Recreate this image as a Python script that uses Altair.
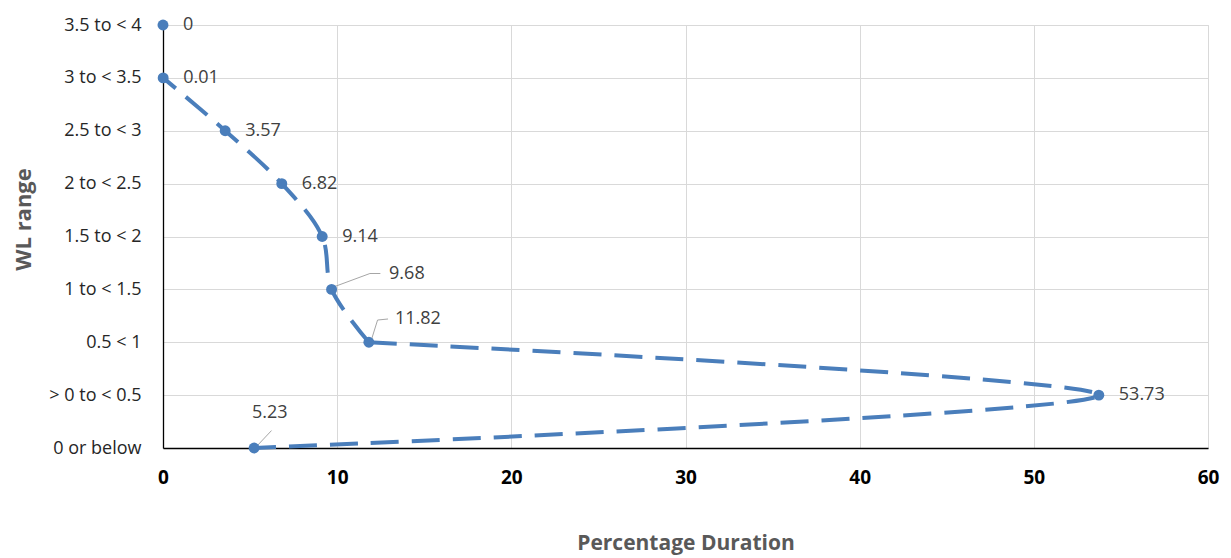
import json
import altair as alt
import pandas as pd

categories = ["0 or below", "> 0 to < 0.5", "0.5 < 1", "1 to < 1.5", "1.5 to < 2",
              "2 to < 2.5", "2.5 to < 3", "3 to < 3.5", "3.5 to < 4"]
durations = [5.23, 53.73, 11.82, 9.68, 9.14, 6.82, 3.57, 0.01, 0]
value_labels = ["5.23", "53.73", "11.82", "9.68", "9.14", "6.82", "3.57", "0.01", "0"]
x_ticks = [0, 10, 20, 30, 40, 50, 60]

df = pd.DataFrame({
    "idx": list(range(len(categories))),
    "cat": categories,
    "dur": durations,
    "lab": value_labels,
})

BLUE = "#4A7EBB"
FONT = "Open Sans"
W, H = 1045, 423

x_enc = alt.X("dur:Q", scale=alt.Scale(domain=[0, 60], nice=False),
              axis=alt.Axis(values=x_ticks, title="Percentage Duration", grid=True,
                            gridColor="#D9D9D9", domainColor="black", domainWidth=1.3,
                            ticks=False, labelPadding=20, labelFontSize=19,
                            labelFlush=False,
                            labelFontWeight="bold", labelColor="black", labelFont=FONT,
                            titleFont=FONT, titleFontSize=21, titleFontWeight="bold",
                            titleColor="#595959", titleX=W / 2, titleY=95,
                            titleBaseline="middle", titleAnchor="middle"))
y_enc = alt.Y("idx:Q", scale=alt.Scale(domain=[0, 8], nice=False),
              axis=alt.Axis(values=list(range(len(categories))), title="WL range",
                            labelExpr=json.dumps(categories) + "[datum.value]",
                            grid=True, gridColor="#D9D9D9", domainColor="black",
                            domainWidth=1.3, ticks=False, labelPadding=22,
                            labelFlush=False,
                            labelFontSize=18, labelColor="#262626", labelFont=FONT,
                            titleFont=FONT, titleFontSize=22, titleFontWeight="bold",
                            titleColor="#595959", titleX=-140, titleY=194,
                            titleAngle=-90, titleAlign="center",
                            titleBaseline="middle"))

base = alt.Chart(df)

# upper smooth part (0.01 down to 11.82)
line_a = base.transform_filter("datum.idx >= 2 && datum.idx < 8").mark_line(
    color=BLUE, strokeWidth=4, strokeDash=[28, 13], interpolate="catmull-rom"
).encode(x=x_enc, y=y_enc, order=alt.Order("idx:Q"))

# long part (11.82 -> 53.73 -> 5.23)
line_b = base.transform_filter("datum.idx <= 2").mark_line(
    color=BLUE, strokeWidth=4, strokeDash=[28, 13], interpolate="catmull-rom"
).encode(x="dur:Q", y="idx:Q", order=alt.Order("idx:Q", sort="descending"))

points = base.mark_point(filled=True, color=BLUE, size=120, opacity=1).encode(
    x="dur:Q", y="idx:Q")

labels_plain = base.transform_filter(
    alt.FieldOneOfPredicate(field="idx", oneOf=[1, 4, 5, 6, 7, 8])
).mark_text(align="left", baseline="middle", dx=20, font=FONT, fontSize=18,
            color="#404040").encode(x="dur:Q", y="idx:Q", text="lab:N")

# leader-line labels (offset in data units)
lead = base.transform_filter(
    alt.FieldOneOfPredicate(field="idx", oneOf=[0, 2, 3])
).transform_calculate(
    x1="datum.dur + (datum.idx == 0 ? 0.2 : 0.15)",
    y1="datum.idx + 0.05",
    x2="datum.dur + (datum.idx == 0 ? 1.0 : (datum.idx == 2 ? 0.5 : 2.2))",
    y2="datum.idx + (datum.idx == 0 ? 0.33 : (datum.idx == 2 ? 0.42 : 0.3))",
    x3="datum.dur + (datum.idx == 0 ? 1.0 : (datum.idx == 2 ? 1.1 : 2.8))",
    y3="datum.idx + (datum.idx == 0 ? 0.33 : (datum.idx == 2 ? 0.44 : 0.3))",
    tx="datum.dur + (datum.idx == 0 ? 0.9 : (datum.idx == 2 ? 1.5 : 3.3))",
    ty="datum.idx + (datum.idx == 0 ? 0.66 : (datum.idx == 2 ? 0.44 : 0.3))",
)

seg1 = lead.mark_rule(color="#A6A6A6", strokeWidth=1).encode(
    x="x1:Q", y="y1:Q", x2="x2:Q", y2="y2:Q")
seg2 = lead.mark_rule(color="#A6A6A6", strokeWidth=1).encode(
    x="x2:Q", y="y2:Q", x2="x3:Q", y2="y3:Q")
lead_text_c = lead.transform_filter("datum.idx == 0").mark_text(
    align="center", baseline="middle", font=FONT, fontSize=18, color="#404040"
).encode(x="tx:Q", y="ty:Q", text="lab:N")
lead_text_l = lead.transform_filter("datum.idx != 0").mark_text(
    align="left", baseline="middle", font=FONT, fontSize=18, color="#404040"
).encode(x="tx:Q", y="ty:Q", text="lab:N")

chart = alt.layer(line_a, line_b, seg1, seg2, points, labels_plain, lead_text_c,
                  lead_text_l).properties(
    width=W, height=H,
    autosize=alt.AutoSizeParams(type="none"),
    padding={"left": 155, "top": 17, "right": 12, "bottom": 120},
).configure_view(stroke="black", strokeWidth=1.3).configure(background="white")

chart.save("out.html", embed_options={"renderer": "svg", "actions": False})
